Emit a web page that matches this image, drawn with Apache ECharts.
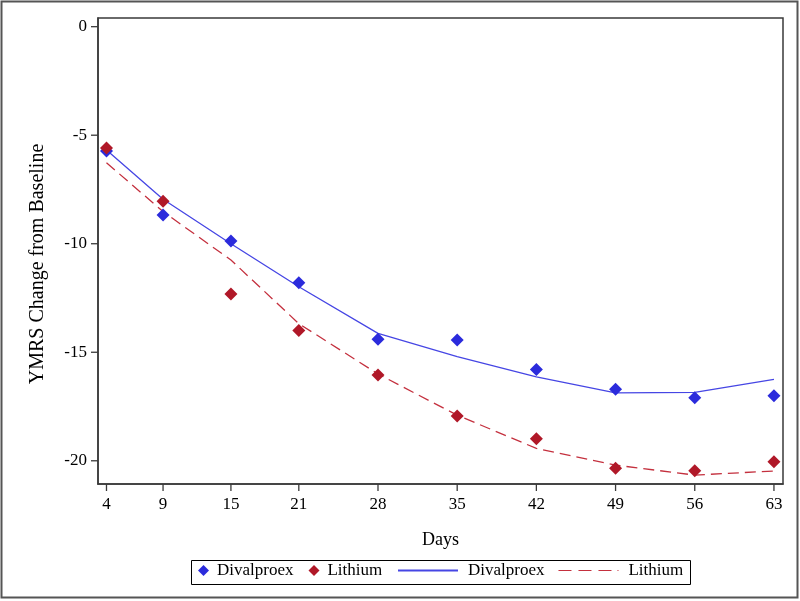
<!DOCTYPE html>
<html>
<head>
<meta charset="utf-8">
<script src="https://cdn.jsdelivr.net/npm/echarts@6/dist/echarts.min.js"></script>
<style>
  html, body { margin: 0; padding: 0; background: #fff; }
  #chart { width: 800px; height: 601px; }
</style>
</head>
<body>
<div id="chart"></div>
<script>
  // days of each visit
  var days = [4, 9, 15, 21, 28, 35, 42, 49, 56, 63];
  var yTicks = [0, -5, -10, -15, -20];

  // observed means (markers)
  var divalproexObs = [-5.73, -8.68, -9.87, -11.8, -14.4, -14.44, -15.79, -16.71, -17.1, -17.0];
  var lithiumObs = [-5.59, -8.04, -12.32, -14.0, -16.05, -17.94, -18.98, -20.34, -20.46, -20.04];

  // fitted curves
  var divalproexFit = [-5.68, -7.95, -10.0, -11.98, -14.13, -15.2, -16.13, -16.87, -16.85, -16.25];
  var lithiumFit = [-6.27, -8.52, -10.75, -13.68, -16.0, -17.9, -19.43, -20.2, -20.66, -20.47];

  function pairs(vals) {
    return days.map(function (d, i) { return [d, vals[i]]; });
  }

  var xMin = 3.25, xMax = 63.8;
  var yMin = -21.07, yMax = 0.4;

  var font = 'Liberation Serif';
  var frame = '#3a3a3a';
  var blue = '#2b2bdc', red = '#b01828';
  var blueLine = '#4646e4', redLine = '#c4303e';

  var myChart = echarts.init(document.getElementById('chart'));

  var legendText = { fontFamily: font, fontSize: 17, color: '#000', padding: [0, 0, 0, 3] };

  // tick marks at the irregular day values (axisTick.customValues did not draw here)
  function xTick(params, api) {
    var p = api.coord([api.value(0), yMin]);
    return {
      type: 'line',
      shape: { x1: p[0], y1: p[1], x2: p[0], y2: p[1] + 7 },
      style: { stroke: frame, lineWidth: 1.3 }
    };
  }
  function yTick(params, api) {
    var p = api.coord([xMin, api.value(1)]);
    return {
      type: 'line',
      shape: { x1: p[0], y1: p[1], x2: p[0] - 7, y2: p[1] },
      style: { stroke: frame, lineWidth: 1.3 }
    };
  }

  var option = {
    animation: false,
    backgroundColor: '#fff',
    textStyle: { fontFamily: font },
    graphic: [
      {
        type: 'rect',
        shape: { x: 1.5, y: 1.5, width: 796, height: 596 },
        style: { fill: 'none', stroke: '#555', lineWidth: 2 }
      },
      {
        type: 'rect',
        shape: { x: 191.5, y: 560.5, width: 499, height: 24 },
        style: { fill: 'none', stroke: '#000', lineWidth: 1 }
      }
    ],
    grid: {
      left: 98, top: 18, right: 17, bottom: 117,
      show: true, borderColor: frame, borderWidth: 1.5
    },
    legend: [
      {
        left: 198, top: 562, padding: 0,
        itemGap: 15, itemWidth: 11, itemHeight: 11,
        textStyle: legendText,
        data: [
          { name: 'Divalproex', icon: 'diamond' },
          { name: 'Lithium', icon: 'diamond' }
        ]
      },
      {
        left: 398, top: 562, padding: 0,
        itemGap: 14, itemWidth: 60, itemHeight: 2,
        textStyle: { fontFamily: font, fontSize: 17, color: '#000', padding: [0, 0, 0, 5] },
        formatter: function (name) { return name.trim(); },
        data: [
          { name: 'Divalproex ', icon: 'rect' },
          { name: 'Lithium ', icon: 'path://M0,0h13v1h-13zM20,0h13v1h-13zM40,0h13v1h-13zM59,0h1v1h-1z' }
        ]
      }
    ],
    xAxis: {
      type: 'value',
      min: xMin,
      max: xMax,
      name: 'Days',
      nameLocation: 'middle',
      nameGap: 47,
      nameTextStyle: { fontFamily: font, fontSize: 18, color: '#000' },
      axisLine: { show: true, onZero: false, lineStyle: { color: frame, width: 1.5 } },
      axisTick: { show: false },
      axisLabel: { customValues: days, margin: 12, fontFamily: font, fontSize: 17, color: '#000' },
      splitLine: { show: false }
    },
    yAxis: {
      type: 'value',
      min: yMin,
      max: yMax,
      name: 'YMRS Change from Baseline',
      nameLocation: 'middle',
      nameGap: 50,
      nameRotate: 90,
      nameTextStyle: { fontFamily: font, fontSize: 20, color: '#000', padding: [0, 26, 0, 0] },
      axisLine: { show: true, onZero: false, lineStyle: { color: frame, width: 1.5 } },
      axisTick: { show: false },
      axisLabel: { customValues: yTicks, margin: 11, fontFamily: font, fontSize: 17, color: '#000' },
      splitLine: { show: false }
    },
    series: [
      {
        name: 'Divalproex',
        type: 'scatter',
        symbol: 'diamond',
        symbolSize: 13,
        itemStyle: { color: blue, opacity: 1 },
        data: pairs(divalproexObs),
        z: 3
      },
      {
        name: 'Lithium',
        type: 'scatter',
        symbol: 'diamond',
        symbolSize: 13,
        itemStyle: { color: red, opacity: 1 },
        data: pairs(lithiumObs),
        z: 3
      },
      {
        name: 'Divalproex ',
        type: 'line',
        symbol: 'none',
        smooth: false,
        itemStyle: { color: blueLine },
        lineStyle: { color: blueLine, width: 1.3 },
        data: pairs(divalproexFit),
        z: 2
      },
      {
        name: 'Lithium ',
        type: 'line',
        symbol: 'none',
        smooth: false,
        itemStyle: { color: redLine },
        lineStyle: { color: redLine, width: 1.3, type: [11, 6] },
        data: pairs(lithiumFit),
        z: 2
      },
      {
        type: 'custom',
        silent: true,
        renderItem: xTick,
        data: days.map(function (d) { return [d, yMin]; }),
        z: 5
      },
      {
        type: 'custom',
        silent: true,
        renderItem: yTick,
        data: yTicks.map(function (v) { return [xMin, v]; }),
        z: 5
      }
    ]
  };

  myChart.setOption(option);
</script>
</body>
</html>
